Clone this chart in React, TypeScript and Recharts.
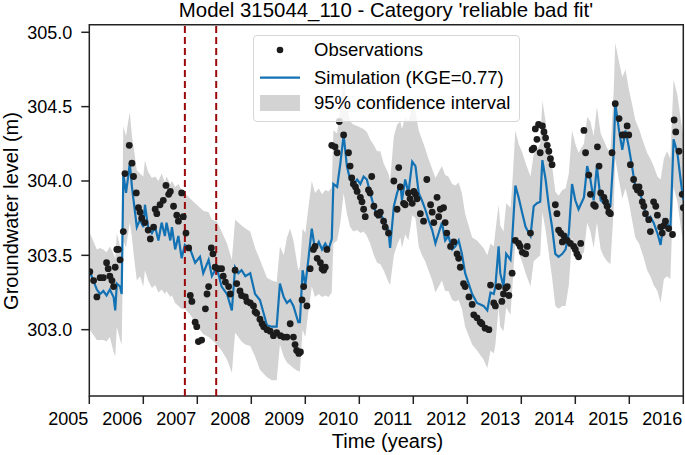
import React from 'react';
import {
  ComposedChart,
  XAxis,
  YAxis,
  Area,
  Line,
  Scatter,
  ReferenceLine,
  ReferenceArea,
  Legend,
  Label,
} from 'recharts';

const FONT = '"Liberation Sans", Arial, Helvetica, sans-serif';

// simulated head, decimal years
const simYears = [
  2005.01, 2005.14, 2005.2, 2005.26, 2005.32, 2005.38, 2005.45, 2005.48, 2005.51, 2005.57, 2005.6, 2005.63, 2005.68, 2005.72, 2005.75, 2005.79, 2005.82, 2005.88, 2005.94, 2006.0,
  2006.03, 2006.09, 2006.16, 2006.22, 2006.28, 2006.34, 2006.4, 2006.43, 2006.5, 2006.53, 2006.59, 2006.65, 2006.71, 2006.77, 2006.87, 2006.96, 2007.05, 2007.11, 2007.21, 2007.27,
  2007.36, 2007.45, 2007.55, 2007.64, 2007.7, 2007.76, 2007.82, 2007.89, 2007.98, 2008.07, 2008.16, 2008.29, 2008.38, 2008.47, 2008.53, 2008.6, 2008.66, 2008.72, 2008.78, 2008.87,
  2008.9, 2008.95, 2009.0, 2009.05, 2009.12, 2009.18, 2009.25, 2009.31, 2009.37, 2009.43, 2009.49, 2009.52, 2009.59, 2009.65, 2009.71, 2009.77, 2009.83, 2009.89, 2009.96, 2010.02,
  2010.08, 2010.14, 2010.2, 2010.27, 2010.33, 2010.39, 2010.45, 2010.54, 2010.57, 2010.64, 2010.7, 2010.76, 2010.79, 2010.85, 2010.91, 2010.98, 2011.04, 2011.1, 2011.16, 2011.22,
  2011.28, 2011.35, 2011.41, 2011.47, 2011.53, 2011.59, 2011.65, 2011.72, 2011.78, 2011.84, 2011.9, 2011.96, 2012.09, 2012.18, 2012.3, 2012.37, 2012.43, 2012.49, 2012.52, 2012.58,
  2012.61, 2012.67, 2012.72, 2012.8, 2012.83, 2012.89, 2012.95, 2013.02, 2013.08, 2013.17, 2013.23, 2013.29, 2013.35, 2013.39, 2013.45, 2013.51, 2013.57, 2013.63, 2013.69, 2013.76,
  2013.82, 2013.88, 2013.94, 2014.0, 2014.06, 2014.16, 2014.22, 2014.28, 2014.34, 2014.4, 2014.47, 2014.53, 2014.59, 2014.65, 2014.71, 2014.74, 2014.81, 2014.87, 2014.93, 2014.99,
  2015.05, 2015.11, 2015.18, 2015.27, 2015.33, 2015.39, 2015.45, 2015.52, 2015.58, 2015.64, 2015.7, 2015.76, 2015.82, 2015.89, 2015.95, 2016.0,
];

const simLevels = [
  303.39, 303.27, 303.24, 303.26, 303.23, 303.27, 303.22, 303.13, 303.31, 303.29, 303.24, 304.05, 303.92, 304.03, 304.12, 303.96, 303.87, 303.69, 303.74, 303.69,
  303.84, 303.69, 303.65, 303.69, 303.6, 303.72, 303.63, 303.72, 303.6, 303.69, 303.54, 303.63, 303.48, 303.57, 303.54, 303.45, 303.49, 303.38, 303.47, 303.36,
  303.42, 303.29, 303.24, 303.13, 303.42, 303.38, 303.4, 303.36, 303.38, 303.24, 303.2, 303.03, 303.02, 303.02, 303.31, 303.22, 303.18, 303.2, 303.16, 303.05,
  303.05, 303.4, 303.3, 303.45, 303.68, 303.54, 303.59, 303.54, 303.58, 303.54, 303.61, 303.98, 303.96, 304.12, 304.31, 304.1, 304.01, 303.98, 304.01, 303.98,
  304.03, 304.01, 303.92, 303.83, 303.76, 303.78, 303.74, 303.67, 303.55, 303.83, 303.92, 303.98, 303.87, 304.01, 303.92, 304.13, 304.1, 303.92, 303.87, 303.81,
  303.74, 303.67, 303.58, 303.65, 303.72, 303.6, 303.63, 303.54, 303.56, 303.6, 303.51, 303.38, 303.24, 303.18, 303.16, 303.13, 303.25, 303.24, 303.29, 303.56,
  303.38, 303.29, 303.51, 303.47, 303.6, 303.97, 303.89, 303.78, 303.69, 303.63, 303.83, 303.85, 303.86, 304.14, 304.01, 303.83, 303.69, 303.51, 303.49, 303.51,
  303.54, 303.65, 303.98, 303.87, 303.81, 303.89, 304.1, 304.01, 303.87, 304.1, 303.87, 303.85, 303.81, 303.83, 304.19, 304.52, 304.34, 304.21, 304.34, 304.23,
  304.1, 303.96, 303.94, 303.83, 303.74, 303.76, 303.72, 303.65, 303.57, 303.74, 303.72, 303.67, 304.28, 304.19, 304.01, 303.87,
];

const ciLower = [
  303.0, 302.93, 302.93, 302.93, 302.92, 302.95, 302.85, 302.82, 303.02, 302.93, 302.9, 303.6, 303.55, 303.65, 303.72, 303.62, 303.51, 303.33, 303.36, 303.29,
  303.4, 303.33, 303.28, 303.3, 303.25, 303.27, 303.24, 303.26, 303.22, 303.23, 303.18, 303.16, 303.14, 303.14, 303.1, 303.05, 303.0, 302.97, 302.95, 302.93,
  302.9, 302.86, 302.8, 302.71, 302.98, 302.95, 302.92, 302.9, 302.89, 302.82, 302.73, 302.68, 302.66, 302.66, 302.9, 302.82, 302.78, 302.76, 302.74, 302.72,
  302.72, 303.0, 302.95, 303.1, 303.29, 303.22, 303.24, 303.22, 303.23, 303.22, 303.25, 303.58, 303.6, 303.72, 303.92, 303.78, 303.69, 303.66, 303.67, 303.65,
  303.66, 303.63, 303.58, 303.5, 303.45, 303.44, 303.4, 303.32, 303.3, 303.5, 303.57, 303.62, 303.55, 303.64, 303.6, 303.77, 303.75, 303.56, 303.5, 303.46,
  303.4, 303.33, 303.25, 303.29, 303.33, 303.26, 303.26, 303.2, 303.19, 303.2, 303.14, 303.02, 302.9, 302.86, 302.8, 302.74, 302.86, 302.84, 302.9, 303.15,
  303.02, 302.99, 303.15, 303.1, 303.26, 303.6, 303.52, 303.45, 303.38, 303.29, 303.46, 303.48, 303.5, 303.79, 303.67, 303.51, 303.35, 303.16, 303.14, 303.16,
  303.16, 303.3, 303.62, 303.53, 303.48, 303.52, 303.72, 303.66, 303.55, 303.72, 303.54, 303.49, 303.46, 303.44, 303.8, 304.15, 304.0, 303.88, 303.95, 303.86,
  303.74, 303.62, 303.58, 303.48, 303.4, 303.36, 303.3, 303.26, 303.18, 303.34, 303.36, 303.34, 303.96, 303.86, 303.7, 303.57,
];

const ciUpper = [
  303.65, 303.54, 303.55, 303.54, 303.52, 303.56, 303.51, 303.48, 303.65, 303.56, 303.52, 304.37, 304.3, 304.4, 304.46, 304.3, 304.23, 304.07, 304.05, 304.03,
  304.14, 304.06, 304.02, 304.03, 304.0, 304.05, 303.99, 304.03, 303.98, 304.0, 303.96, 303.98, 303.94, 303.92, 303.88, 303.85, 303.82, 303.8, 303.79, 303.74,
  303.73, 303.66, 303.58, 303.47, 303.74, 303.72, 303.7, 303.68, 303.66, 303.55, 303.47, 303.35, 303.33, 303.32, 303.56, 303.5, 303.62, 303.68, 303.6, 303.4,
  303.42, 303.68, 303.65, 303.8, 304.0, 303.92, 303.95, 303.91, 303.94, 303.93, 303.96, 304.34, 304.32, 304.5, 304.68, 304.5, 304.4, 304.38, 304.37, 304.36,
  304.35, 304.33, 304.28, 304.24, 304.2, 304.2, 304.12, 304.05, 304.0, 304.3, 304.38, 304.4, 304.35, 304.43, 304.4, 304.5, 304.47, 304.34, 304.28, 304.22,
  304.15, 304.08, 304.02, 304.06, 304.1, 304.04, 304.03, 303.98, 303.97, 303.99, 303.92, 303.78, 303.62, 303.6, 303.55, 303.5, 303.58, 303.56, 303.66, 303.84,
  303.7, 303.66, 303.85, 303.82, 303.96, 304.34, 304.25, 304.19, 304.12, 304.03, 304.18, 304.21, 304.25, 304.54, 304.4, 304.22, 304.1, 303.93, 303.9, 303.94,
  303.95, 304.05, 304.34, 304.25, 304.19, 304.25, 304.43, 304.4, 304.3, 304.5, 304.32, 304.27, 304.22, 304.19, 304.6, 304.93, 304.8, 304.7, 304.75, 304.62,
  304.52, 304.41, 304.35, 304.25, 304.19, 304.15, 304.1, 304.03, 304.01, 304.15, 304.2, 304.15, 304.68, 304.58, 304.42, 304.3,
];

// observed heads
const obsYears = [
  2005.01, 2005.08, 2005.14, 2005.2, 2005.26, 2005.32, 2005.35, 2005.38, 2005.42, 2005.45, 2005.48, 2005.51, 2005.54, 2005.57, 2005.63, 2005.66, 2005.74, 2005.79, 2005.82, 2005.87,
  2005.91, 2005.94, 2005.97, 2006.03, 2006.09, 2006.13, 2006.19, 2006.22, 2006.25, 2006.31, 2006.37, 2006.42, 2006.47, 2006.5, 2006.56, 2006.62, 2006.65, 2006.71, 2006.74, 2006.79,
  2006.84, 2006.87, 2006.9, 2006.96, 2006.99, 2007.02, 2007.08, 2007.15, 2007.18, 2007.21, 2007.26, 2007.29, 2007.33, 2007.39, 2007.45, 2007.48, 2007.52, 2007.58, 2007.61, 2007.7,
  2007.73, 2007.79, 2007.82, 2007.89, 2007.92, 2007.98, 2008.04, 2008.07, 2008.1, 2008.16, 2008.2, 2008.23, 2008.29, 2008.35, 2008.41, 2008.47, 2008.54, 2008.6, 2008.66,
  2008.72, 2008.78, 2008.81, 2008.84, 2008.88, 2008.91, 2008.94, 2008.97, 2009.03, 2009.09, 2009.15, 2009.18, 2009.22, 2009.28, 2009.31, 2009.34, 2009.37, 2009.4, 2009.49, 2009.55,
  2009.59, 2009.63, 2009.71, 2009.8, 2009.83, 2009.86, 2009.89, 2009.93, 2009.96, 2010.02, 2010.05, 2010.08, 2010.11, 2010.17, 2010.2, 2010.23, 2010.27, 2010.33, 2010.36, 2010.39,
  2010.45, 2010.48, 2010.54, 2010.64, 2010.7, 2010.73, 2010.76, 2010.82, 2010.85, 2010.91, 2010.94, 2010.98, 2011.01, 2011.04, 2011.07, 2011.13, 2011.19, 2011.25, 2011.32, 2011.35,
  2011.38, 2011.44, 2011.47, 2011.5, 2011.56, 2011.59, 2011.62, 2011.69, 2011.75, 2011.81, 2011.84, 2011.87, 2011.93, 2011.96, 2012.03, 2012.09, 2012.12, 2012.18, 2012.24, 2012.27,
  2012.33, 2012.4, 2012.43, 2012.49, 2012.52, 2012.58, 2012.64, 2012.67, 2012.71, 2012.74, 2012.77, 2012.83, 2012.89, 2012.95, 2012.98, 2013.02, 2013.08, 2013.11, 2013.17, 2013.2,
  2013.23, 2013.26, 2013.29, 2013.32, 2013.35, 2013.39, 2013.42, 2013.45, 2013.48, 2013.51, 2013.54, 2013.57, 2013.63, 2013.66, 2013.69, 2013.73, 2013.76, 2013.79, 2013.85, 2013.91,
  2013.97, 2014.0, 2014.03, 2014.06, 2014.1, 2014.16, 2014.19, 2014.25, 2014.28, 2014.34, 2014.37, 2014.41, 2014.44, 2014.47, 2014.53, 2014.56, 2014.59, 2014.62, 2014.65, 2014.68,
  2014.74, 2014.81, 2014.87, 2014.9, 2014.96, 2014.99, 2015.02, 2015.08, 2015.12, 2015.15, 2015.18, 2015.21, 2015.24, 2015.27, 2015.3, 2015.36, 2015.39, 2015.45, 2015.49, 2015.52,
  2015.58, 2015.61, 2015.64, 2015.67, 2015.73, 2015.8, 2015.83, 2015.86, 2015.92, 2015.98, 2016.0,
];

const obsLevels = [
  303.39, 303.33, 303.22, 303.35, 303.35, 303.45, 303.41, 303.36, 303.33, 303.29, 303.42, 303.54, 303.54, 303.47, 303.66, 304.05, 304.24, 304.12, 304.03, 303.92,
  303.82, 303.79, 303.75, 303.72, 303.67, 303.61, 303.69, 303.81, 303.78, 303.84, 303.87, 303.97, 303.91, 303.93, 303.83, 303.77, 303.73, 303.92, 303.76, 303.65,
  303.55, 303.23, 303.19, 303.05, 303.02, 302.92, 302.93, 303.14, 303.24, 303.29, 303.55, 303.51, 303.42, 303.41, 303.41, 303.36, 303.32, 303.29, 303.24, 303.4,
  303.31, 303.26, 303.23, 303.22, 303.19, 303.18, 303.16, 303.12, 303.11, 303.07, 303.04, 303.02, 303.0, 302.99, 302.96, 302.98, 302.96, 302.95, 302.95,
  303.04, 302.95, 302.9, 302.86, 302.84, 302.85, 303.2, 303.29, 303.16, 303.41, 303.54, 303.56, 303.48, 303.45, 303.41, 303.4, 303.42, 303.54, 304.24, 304.23,
  304.19, 304.4, 304.31, 304.19, 304.1, 304.02, 303.98, 303.96, 303.93, 303.89, 303.86, 303.81, 303.76, 303.94, 303.92, 304.03, 303.83, 303.78, 303.77, 303.79,
  303.73, 303.69, 303.65, 304.0, 303.81, 304.09, 303.96, 303.85, 303.84, 303.92, 303.88, 303.85, 303.93, 303.91, 303.88, 303.78, 303.73, 304.01, 303.84, 303.79,
  303.72, 303.89, 303.76, 303.81, 303.82, 303.72, 303.65, 303.56, 303.59, 303.51, 303.48, 303.42, 303.31, 303.29, 303.22, 303.17, 303.1, 303.08, 303.05, 303.04,
  303.01, 303.0, 303.3, 303.18, 303.16, 303.29, 303.19, 303.24, 303.28, 303.29, 303.23, 303.38, 303.6, 303.58, 303.56, 303.52, 303.51, 303.56, 303.65, 304.21,
  304.22, 304.35, 304.28, 304.38, 304.19, 304.37, 304.33, 304.29, 304.24, 304.2, 304.15, 304.11, 303.84, 303.78, 303.67, 303.65, 303.59, 303.63, 303.6, 303.58,
  303.56, 303.54, 303.51, 303.49, 303.58, 304.34, 304.19, 304.04, 303.91, 303.84, 303.83, 304.23, 304.1, 303.92, 303.89, 303.86, 303.83, 303.79, 303.78, 304.19,
  304.52, 304.42, 304.31, 304.31, 304.37, 304.31, 304.11, 304.01, 303.96, 303.94, 303.96, 303.92, 303.86, 303.83, 303.78, 303.74, 303.66, 303.86, 303.83, 303.77,
  303.69, 303.65, 303.7, 303.73, 303.68, 303.64, 304.41, 304.33, 304.2, 303.91, 303.82,
];

const yearTicks = [2005, 2006, 2007, 2008, 2009, 2010, 2011, 2012, 2013, 2014, 2015, 2016];
const levelTicks = [303.0, 303.5, 304.0, 304.5, 305.0];
const markerYears = [2006.77, 2007.35];

const X_MIN = 2005;
const X_MAX = 2016;
const Y_MIN = 302.554;
const Y_MAX = 305.051;

const simData = simYears.map((t, i) => ({ t, sim: simLevels[i], ci: [ciLower[i], ciUpper[i]] }));
const obsData = obsYears.map((t, i) => ({ t, obs: obsLevels[i] }));

const OBS_COLOR = '#1c1c1c';
const SIM_COLOR = '#1372b4';
const CI_COLOR = '#d3d3d3';

// year labels sit to the left of their tick (right-aligned), like the source figure
const YearTick = (props: any) => {
  const { x, y, payload } = props;
  return (
    <text x={x - 1} y={y} dy="0.71em" textAnchor="end" fontSize={18} fill="#000">
      {payload.value}
    </text>
  );
};

const LegendBox = () => (
  <div
    style={{
      width: 267,
      height: 87,
      boxSizing: 'border-box',
      border: '1px solid #d6d6d6',
      borderRadius: 4,
      background: 'rgba(255,255,255,0.8)',
      fontFamily: FONT,
    }}
  >
    <svg width={265} height={85} style={{ display: 'block' }}>
      <circle cx={26} cy={14} r={3.3} fill={OBS_COLOR} />
      <text x={60} y={14} dy="0.35em" fontSize={18.5} fill="#000">Observations</text>
      <line x1={6} x2={46} y1={41.7} y2={41.7} stroke={SIM_COLOR} strokeWidth={2.2} />
      <text x={60} y={41.7} dy="0.35em" fontSize={18.5} fill="#000">Simulation (KGE=0.77)</text>
      <rect x={6} y={59} width={40} height={16} fill={CI_COLOR} />
      <text x={60} y={67} dy="0.35em" fontSize={18.5} fill="#000">95% confidence interval</text>
    </svg>
  </div>
);

const App: React.FC = () => {
  return (
    <div style={{ position: 'absolute', left: 0, top: 0, width: 685, height: 455, background: '#fff', fontFamily: FONT }}>
      <ComposedChart
        width={685}
        height={455}
        data={simData}
        margin={{ top: 24.7, right: 1.7, bottom: 0, left: 0 }}
      >
        <XAxis
          type="number"
          dataKey="t"
          domain={[X_MIN, X_MAX]}
          ticks={yearTicks}
          interval={0}
          allowDataOverflow
          height={59}
          axisLine={false}
          tickSize={8}
          tickMargin={8}
          tickLine={{ stroke: '#222', strokeWidth: 1.5 }}
          tick={<YearTick />}
        >
          <Label
            content={() => (
              <text x={387.5} y={448} textAnchor="middle" fontSize={20} fill="#000">
                Time (years)
              </text>
            )}
          />
        </XAxis>
        <YAxis
          type="number"
          domain={[Y_MIN, Y_MAX]}
          ticks={levelTicks}
          interval={0}
          allowDataOverflow
          width={89.3}
          axisLine={false}
          tickSize={8}
          tickMargin={9}
          tickLine={{ stroke: '#222', strokeWidth: 1.5 }}
          tick={{ fontSize: 18, fill: '#000' }}
          tickFormatter={(v: number) => v.toFixed(1)}
        >
          <Label
            content={() => (
              <text
                x={17.5}
                y={211}
                transform="rotate(-90 17.5 211)"
                textAnchor="middle"
                fontSize={20}
                fill="#000"
              >
                Groundwater level (m)
              </text>
            )}
          />
        </YAxis>
        <Area
          type="linear"
          dataKey="ci"
          stroke="none"
          fill={CI_COLOR}
          fillOpacity={1}
          isAnimationActive={false}
          legendType="none"
        />
        <Scatter
          data={obsData}
          dataKey="obs"
          isAnimationActive={false}
          shape={(p: any) => <circle cx={p.cx} cy={p.cy} r={3.4} fill={OBS_COLOR} />}
        />
        <Line
          type="linear"
          dataKey="sim"
          stroke={SIM_COLOR}
          strokeWidth={2.2}
          dot={false}
          activeDot={false}
          isAnimationActive={false}
        />
        {markerYears.map((x) => (
          <ReferenceLine key={x} x={x} stroke="#9b0a0a" strokeWidth={2} strokeDasharray="7 4" />
        ))}
        <ReferenceArea
          x1={X_MIN}
          x2={X_MAX}
          y1={Y_MIN}
          y2={Y_MAX}
          fill="none"
          fillOpacity={0}
          stroke="#222"
          strokeWidth={1.5}
        />
        <Legend
          layout="horizontal"
          verticalAlign="middle"
          align="center"
          wrapperStyle={{ left: 253, top: 35, width: 267, height: 87 }}
          content={() => <LegendBox />}
        />
      </ComposedChart>
      <svg
        width={685}
        height={24}
        style={{ position: 'absolute', left: 0, top: 0, pointerEvents: 'none' }}
      >
        <text x={386} y={16.7} textAnchor="middle" fontSize={20.4} fill="#000">
          Model 315044_110 - Category 'reliable bad fit'
        </text>
      </svg>
    </div>
  );
};

export default App;
